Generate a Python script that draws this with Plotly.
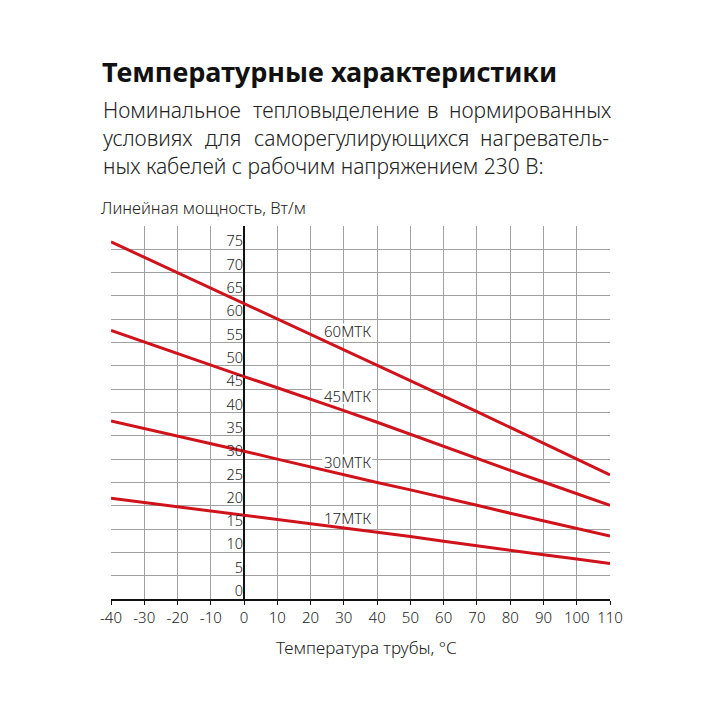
import plotly.graph_objects as go

# temperature of pipe, deg C
temps = [-40, -30, -20, -10, 0, 10, 20, 30, 40, 50, 60, 70, 80, 90, 100, 110]

# linear power, W/m
mtk60 = [76.6, 73.3, 70.0, 66.7, 63.4, 60.1, 56.8, 53.5, 50.2, 46.9, 43.6, 40.2, 36.8, 33.4, 30.0, 26.6]
mtk45 = [57.6, 55.1, 52.6, 50.1, 47.7, 45.3, 42.9, 40.4, 37.9, 35.3, 32.7, 30.1, 27.6, 25.1, 22.6, 20.1]
mtk30 = [38.2, 36.6, 35.0, 33.4, 31.7, 30.0, 28.3, 26.6, 25.0, 23.4, 21.8, 20.1, 18.4, 16.8, 15.1, 13.5]
mtk17 = [21.6, 20.7, 19.8, 18.9, 18.0, 17.1, 16.2, 15.3, 14.3, 13.4, 12.4, 11.4, 10.5, 9.5, 8.6, 7.6]

series_names = ["60МТК", "45МТК", "30МТК", "17МТК"]
label_y = [57.5, 43.5, 29.4, 17.4]
label_x = 31

x_ticks = list(range(-40, 111, 10))
x_ticktext = [str(v) for v in x_ticks]  # plain hyphen for negatives
y_ticks = list(range(0, 81, 5))
y_ticktext = [str(v) for v in y_ticks[:-1]] + [""]

title = "Температурные характеристики"
para_lines = [
    ["Номинальное", "тепловыделение", "в", "нормированных"],
    ["условиях", "для", "саморегулирующихся", "нагреватель-"],
]
para_last = "ных кабелей с рабочим напряжением 230 В:"
y_title = "Линейная мощность, Вт/м"
x_title = "Температура трубы, °С"

FONT = "Noto Sans"
TXT = "#222222"
RED = "#d0121b"
GRID = "#a0a0a0"

# plot area in page pixels; the page body adds an 8px margin
OFF = 8
L, R, T, B = 111, 610, 226, 599


def px(x):
    return (x - L) / (R - L)


def py(y):
    return (B - y) / (B - T)


def light(size):
    return dict(family=FONT, size=size, color=TXT, weight=300)


fig = go.Figure()
for vals in [mtk60, mtk45, mtk30, mtk17]:
    fig.add_trace(go.Scatter(x=temps, y=vals, mode="lines",
                             line=dict(color=RED, width=3),
                             showlegend=False, hoverinfo="skip"))

ann = []
shapes = []
for name, yv in zip(series_names, label_y):
    # white patch over the grid, under the curves
    shapes.append(dict(type="rect", xref="x", yref="y", layer="between",
                       x0=label_x - 7.5, x1=label_x + 7.5, y0=yv - 1.6, y1=yv + 1.6,
                       fillcolor="white", line=dict(width=0)))
    ann.append(dict(x=label_x, y=yv, xref="x", yref="y", text=name,
                    showarrow=False, font=light(15)))

ann.append(dict(x=px(100), y=py(72), xref="paper", yref="paper", text=f"<b>{title}</b>",
                xanchor="left", yanchor="middle", showarrow=False,
                font=dict(family=FONT, size=27, color="#111111")))

# justified paragraph lines: words at their left edges, last word flush right
word_left = [[101, 251, 425], [101, 203, 252]]
right_edge = [613, 611]
line_y = [110, 138]
for words, lefts, re_, ly in zip(para_lines, word_left, right_edge, line_y):
    for i, w in enumerate(words):
        if i < len(lefts):
            x, xa = lefts[i], "left"
        else:
            x, xa = re_, "right"
        ann.append(dict(x=px(x), y=py(ly), xref="paper", yref="paper", text=w,
                        xanchor=xa, yanchor="middle", showarrow=False,
                        font=light(21)))
ann.append(dict(x=px(101), y=py(166), xref="paper", yref="paper", text=para_last,
                xanchor="left", yanchor="middle", showarrow=False,
                font=light(21)))

ann.append(dict(x=px(99), y=py(207), xref="paper", yref="paper", text=y_title,
                xanchor="left", yanchor="middle", showarrow=False,
                font=light(16.5)))
ann.append(dict(x=px(366), y=py(647), xref="paper", yref="paper", text=x_title,
                xanchor="center", yanchor="middle", showarrow=False,
                font=light(17)))

fig.update_layout(
    width=724, height=724,
    margin=dict(l=L - OFF, r=724 - R + OFF, t=T - OFF, b=724 - B + OFF),
    paper_bgcolor="white", plot_bgcolor="white",
    annotations=ann, shapes=shapes,
    xaxis=dict(range=[-40, 110], tickvals=x_ticks, ticktext=x_ticktext,
               showgrid=True, gridcolor=GRID, gridwidth=1.3,
               zeroline=True, zerolinecolor="#111111", zerolinewidth=1.5,
               showline=True, linecolor="#111111", linewidth=1.5,
               ticks="outside", ticklen=4, tickcolor="#111111",
               tickfont=light(15)),
    yaxis=dict(range=[0, 80], tickvals=y_ticks, ticktext=y_ticktext,
               anchor="free", position=40 / 150,
               showgrid=True, gridcolor=GRID, gridwidth=1.3,
               zeroline=False, showline=False, ticks="",
               ticklabelshift=-8, ticklabelstandoff=1,
               tickfont=light(14.5)),
)

fig.write_html("out.html")
